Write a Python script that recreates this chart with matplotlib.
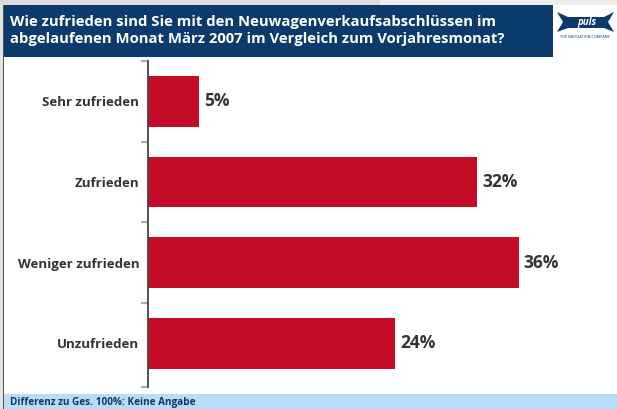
import matplotlib.pyplot as plt
from matplotlib.patches import Rectangle, Polygon

categories = ['Sehr zufrieden', 'Zufrieden', 'Weniger zufrieden', 'Unzufrieden']
values = [5, 32, 36, 24]
value_labels = ['5%', '32%', '36%', '24%']

title = ('Wie zufrieden sind Sie mit den Neuwagenverkaufsabschlüssen im\n'
         'abgelaufenen Monat März 2007 im Vergleich zum Vorjahresmonat?')
footer = 'Differenz zu Ges. 100%: Keine Angabe'

NAVY = '#0b3a6c'
RED = '#c40c27'
TEXT = '#333333'

plt.rcParams['font.family'] = ['Open Sans', 'DejaVu Sans']

W, H = 617, 409
fig = plt.figure(figsize=(W / 100, H / 100), dpi=100)


def px(x, y, w, h):
    # pixel box (top-left origin) -> figure fraction
    return (x / W, 1 - (y + h) / H, w / W, h / H)


def rect(x, y, w, h, color):
    l, b, ww, hh = px(x, y, w, h)
    fig.patches.append(Rectangle((l, b), ww, hh, transform=fig.transFigure,
                                 facecolor=color, edgecolor='none', zorder=0))


# frame pieces
rect(0, 0, 380, 5, '#dcdcdc')
rect(380, 0, 237, 5, '#eeeeee')
rect(0, 5, 3, 404, '#e4e4e4')
rect(3, 5, 1.3, 404, '#555555')
rect(4, 5, 549, 52, NAVY)
rect(4, 394, 613, 15, '#b9dcf8')

fig.text(10 / W, 1 - 30.5 / H, title, color='white', fontsize=10.7,
         fontweight='bold', va='center', ha='left', linespacing=1.35)
fig.text(10 / W, 1 - 402 / H, footer, color=NAVY, fontsize=7.2,
         fontweight='bold', va='center', ha='left')

# logo
pts = [(557, 12), (568, 17), (604, 17), (614, 12), (608, 22), (614, 32),
       (604, 28), (568, 28), (557, 32), (563, 22)]
fig.patches.append(Polygon([(x / W, 1 - y / H) for x, y in pts],
                           transform=fig.transFigure, facecolor=NAVY,
                           edgecolor='none'))
fig.text(587 / W, 1 - 22.5 / H, 'puls', color='white', fontsize=7,
         fontweight='bold', style='italic', ha='center', va='center')
fig.text(585 / W, 1 - 37 / H, 'THE NAVIGATION COMPANY', color=NAVY,
         fontsize=2.7, ha='center', va='center')

# chart
ax = fig.add_axes(px(147.5, 61, 412.5, 326))
y = list(range(len(categories)))
ax.barh(y, values, height=0.63, color=RED, zorder=2)
for yi, v, lab in zip(y, values, value_labels):
    ax.text(v + 0.5, yi, lab, va='center', ha='left', fontsize=12.5,
            fontweight='bold', color=TEXT)

ax.set_xlim(0, 412.5 / 10.31)
ax.set_ylim(3.54, -0.5)
ax.set_yticks(y)
ax.set_yticklabels(categories, fontsize=9.5, fontweight='bold', color=TEXT)
ax.tick_params(axis='y', which='major', length=0, pad=6)
ax.set_yticks([-0.5, 0.5, 1.5, 2.5, 3.54], minor=True)
ax.tick_params(axis='y', which='minor', length=5, width=1.2, color='#999999')
ax.set_xticks([])
for s in ['top', 'right', 'bottom']:
    ax.spines[s].set_visible(False)
ax.spines['left'].set_color('#444444')
ax.spines['left'].set_linewidth(1.3)
ax.patch.set_alpha(0)

fig.savefig('out.png', dpi=100)
